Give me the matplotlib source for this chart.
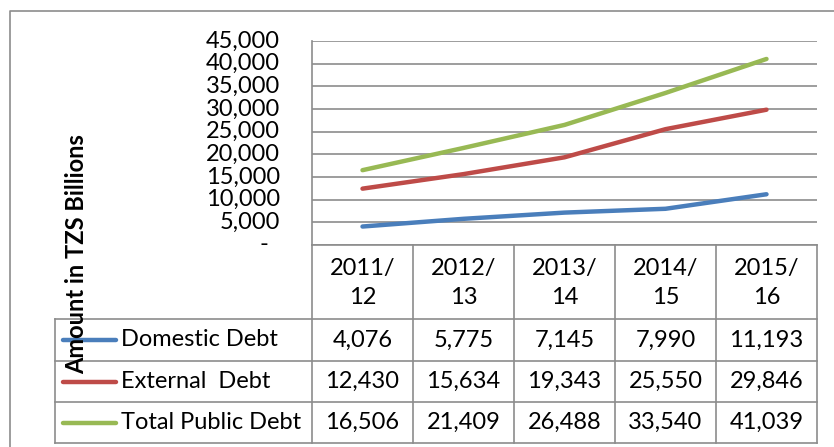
import matplotlib
matplotlib.use("Agg")
import matplotlib.pyplot as plt
from matplotlib.transforms import blended_transform_factory

plt.rcParams['font.family'] = ['Lato', 'DejaVu Sans']

# Data
years = ["2011/\n12", "2012/\n13", "2013/\n14", "2014/\n15", "2015/\n16"]
series_names = ["Domestic Debt", "External  Debt", "Total Public Debt"]
domestic = [4076, 5775, 7145, 7990, 11193]
external = [12430, 15634, 19343, 25550, 29846]
total = [16506, 21409, 26488, 33540, 41039]
series_values = [domestic, external, total]
series_colors = ["#4A7EBB", "#BE4B48", "#98B954"]
y_ticks = [0, 5000, 10000, 15000, 20000, 25000, 30000, 35000, 40000, 45000]

W, H = 834, 447
fig = plt.figure(figsize=(W / 100, H / 100), dpi=100)

def fx(px):
    return px / W

def fy(py):
    return 1 - py / H

# Layout in pixels
plot_l, plot_r, plot_t, plot_b = 312, 817, 41, 245
leg_l = 55
row_edges = [245, 319, 361, 402, 443]
grid_col = "#8C8C8C"
fs = 17

# Background overlay in pixel coordinates for frame and table
ov = fig.add_axes([0, 0, 1, 1])
ov.set_xlim(0, W)
ov.set_ylim(H, 0)
ov.axis("off")
ov.plot([10, 10, W + 5], [H + 5, 11, 11], color="#8C8C8C", lw=1.2, solid_capstyle="butt")

# Main line chart
ax = fig.add_axes([fx(plot_l), fy(plot_b), fx(plot_r - plot_l), fy(plot_t) - fy(plot_b)])
ax.set_xlim(-0.5, len(years) - 0.5)
ax.set_ylim(0, 45000)
ax.patch.set_alpha(0)
for s in ["top", "right", "bottom"]:
    ax.spines[s].set_visible(False)
ax.spines["left"].set_color(grid_col)
ax.spines["left"].set_linewidth(1.2)
ax.set_xticks([])
ax.set_yticks(y_ticks)
ax.tick_params(axis="y", length=0, labelleft=False)
ax.yaxis.grid(True, color=grid_col, lw=1.2)
ax.set_axisbelow(True)
ax.axhline(0, color=grid_col, lw=1.2, clip_on=False)

xs = list(range(len(years)))
for vals, col in zip(series_values, series_colors):
    ax.plot(xs, vals, color=col, lw=3.2, solid_capstyle="round", zorder=3)

# Y tick labels
trans = blended_transform_factory(ov.transData, ax.transData)
for v in y_ticks:
    lab = f"{v:,}" if v else "-"
    xpos = 280 if v else 268
    ax.text(xpos, v, lab, transform=trans, ha="right", va="center", fontsize=fs, color="black")

# Data table
col_edges = [plot_l + i * (plot_r - plot_l) / len(years) for i in range(len(years) + 1)]
for xe in col_edges:
    ov.plot([xe, xe], [plot_b, row_edges[-1]], color=grid_col, lw=1.2)
ov.plot([leg_l, leg_l], [row_edges[1], row_edges[-1]], color=grid_col, lw=1.2)
for ye in row_edges[1:]:
    ov.plot([leg_l, plot_r], [ye, ye], color=grid_col, lw=1.2)

for i, lab in enumerate(years):
    cx = (col_edges[i] + col_edges[i + 1]) / 2
    top, bot = lab.split("\n")
    ov.text(cx, 268, top, ha="center", va="center", fontsize=fs)
    ov.text(cx, 298, bot, ha="center", va="center", fontsize=fs)

for r, (name, vals, col) in enumerate(zip(series_names, series_values, series_colors)):
    cy = (row_edges[r + 1] + row_edges[r + 2]) / 2
    ov.plot([63, 116], [cy, cy], color=col, lw=3.2, solid_capstyle="round")
    ov.text(121, cy, name, ha="left", va="center", fontsize=fs)
    for i, v in enumerate(vals):
        cx = (col_edges[i] + col_edges[i + 1]) / 2
        ov.text(cx, cy, f"{v:,}", ha="center", va="center", fontsize=fs)

# Axis title
ov.text(77, 254, "Amount in TZS Billions", rotation=90, ha="center", va="center",
        fontsize=17, fontweight="bold", zorder=5)

fig.savefig("out.png", dpi=100)
